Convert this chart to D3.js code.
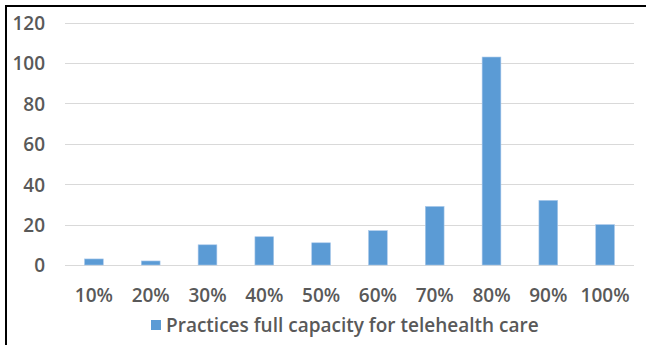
<!DOCTYPE html>
<html><head><meta charset="utf-8">
<script src="https://cdn.jsdelivr.net/npm/d3@7"></script>
<style>html,body{margin:0;padding:0;background:#fff;}svg{display:block;}</style>
</head><body>
<script>
const categories = ["10%","20%","30%","40%","50%","60%","70%","80%","90%","100%"];
const values = [3, 2, 10, 14, 11, 17, 29, 103, 32, 20];
const yTicks = [0, 20, 40, 60, 80, 100, 120];
const seriesName = "Practices full capacity for telehealth care";

const W = 646, H = 345;
const FONT = "'Open Sans', sans-serif";
const TXT = "#595959";
const FS = 19;
const svg = d3.select("body").append("svg").attr("width", W).attr("height", H);
svg.append("rect").attr("width", W).attr("height", H).attr("fill", "#fff");

const x = d3.scaleBand().domain(categories).range([65.5, 633.5]).paddingInner(0.67).paddingOuter(0.335);
const y = d3.scaleLinear().domain([0, 120]).range([265, 22.7]);

// gridlines
svg.append("g").selectAll("line").data(yTicks).join("line")
  .attr("x1", 65).attr("x2", 634)
  .attr("y1", d => Math.round(y(d)) + 0.5).attr("y2", d => Math.round(y(d)) + 0.5)
  .attr("stroke", "#d9d9d9").attr("stroke-width", 1.2);

// y axis labels
const yAxis = d3.axisLeft(y).tickValues(yTicks).tickSize(0).tickPadding(0);
const gy = svg.append("g").attr("transform", "translate(45,0)").call(yAxis);
gy.select(".domain").remove();
gy.selectAll("text").attr("font-family", FONT).attr("font-size", FS).attr("font-weight", 600)
  .attr("fill", TXT).attr("dy", "0.36em");

// bars
svg.append("g").selectAll("rect").data(values).join("rect")
  .attr("x", (d, i) => x(categories[i]))
  .attr("width", x.bandwidth())
  .attr("y", d => y(d))
  .attr("height", d => y(0) - y(d))
  .attr("fill", "#5b9bd5")
  .attr("stroke", "#a9c8ea").attr("stroke-width", 0.6);

// x axis labels
const xAxis = d3.axisBottom(x).tickSize(0).tickPadding(0);
const gx = svg.append("g").attr("transform", "translate(0,301.5)").call(xAxis);
gx.select(".domain").remove();
gx.selectAll("text").attr("font-family", FONT).attr("font-size", FS).attr("font-weight", 600)
  .attr("fill", TXT).attr("dy", 0);

// legend
const lg = svg.append("g");
lg.append("rect").attr("x", 151).attr("y", 320).attr("width", 10).attr("height", 10).attr("fill", "#5b9bd5");
lg.append("text").attr("x", 166).attr("y", 332).text(seriesName)
  .attr("font-family", FONT).attr("font-size", FS).attr("font-weight", 600).attr("fill", TXT);

// frame
svg.append("line").attr("x1", 5).attr("x2", W).attr("y1", 6).attr("y2", 6).attr("stroke", "#000").attr("stroke-width", 2);
svg.append("line").attr("x1", 6).attr("x2", 6).attr("y1", 5).attr("y2", H).attr("stroke", "#000").attr("stroke-width", 2);
</script>
</body></html>
